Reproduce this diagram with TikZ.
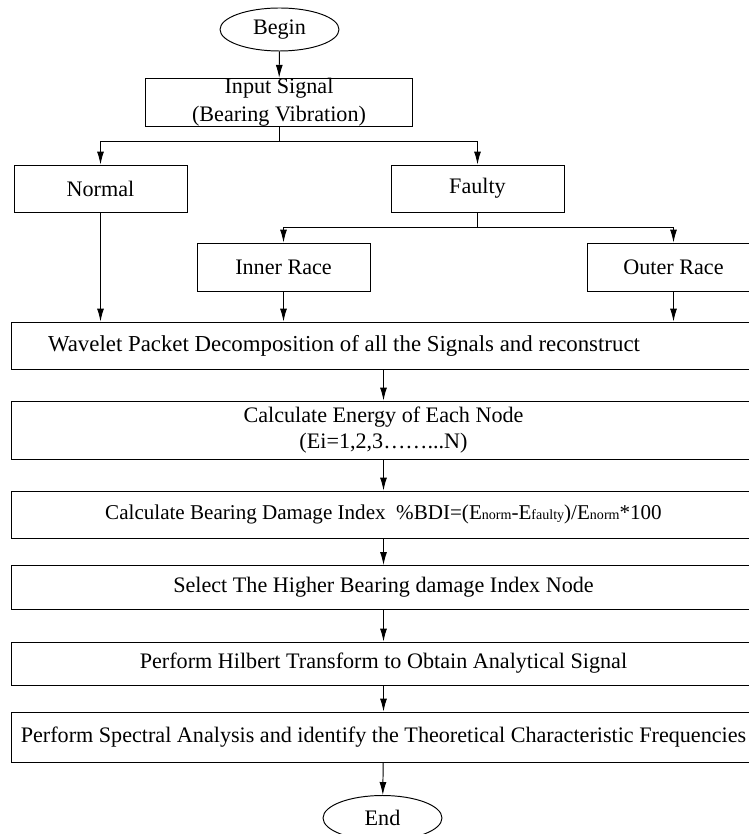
\documentclass[tikz,border=0pt]{standalone}
\usepackage{fontspec}
\setmainfont{Liberation Serif}
\usetikzlibrary{arrows.meta,shapes.geometric}

\begin{document}
\begin{tikzpicture}[x=0.02cm, y=-0.02cm, line width=0.55pt, >={Latex[length=2.6mm,width=1.4mm]},
		every node/.style={font=\fontsize{12.6}{15}\selectfont},
		box/.style={draw, rectangle, align=center, inner sep=0pt, minimum width=3.46cm, minimum height=0.94cm},
		wide/.style={box, minimum width=14.9cm},
		term/.style={draw, ellipse, inner sep=0pt, minimum width=2.38cm, minimum height=0.86cm}]
				\useasboundingbox (0,0) rectangle (749,834);
				\clip (0,0) rectangle (749,834);
				\node[term] (begin) at (279.5,29.5) {Begin};
				\node[box, minimum width=5.36cm] (input) at (279,102.5) {Input Signal\\[1pt](Bearing Vibration)};
				\node[box] (normal) at (100.5,188.5) {Normal};
				\node[box] (faulty) at (477.5,188.5) {Faulty};
				\node[box, minimum height=0.96cm] (inner) at (283.5,267) {Inner Race};
				\node[box, minimum height=0.96cm] (outer) at (673.5,267) {Outer Race};
				\node[wide, font=\fontsize{13}{15}\selectfont] (wave) at (383.5,345.5) {Wavelet Packet Decomposition of all the Signals and reconstruct\hspace*{1.58cm}};
				\node[wide, minimum height=1.16cm] (energy) at (383.5,430) {Calculate Energy of Each Node\\(Ei=1,2,3……...N)};
				\node[wide, font=\fontsize{12}{15}\selectfont] (bdi) at (383.5,514.5) {Calculate Bearing Damage Index\ \ \%BDI=(E{\fontsize{8}{10}\selectfont norm}-E{\fontsize{8}{10}\selectfont faulty})/E{\fontsize{8}{10}\selectfont norm}*100};
				\node[wide, minimum height=0.88cm] (select) at (383.5,587.5) {Select The Higher Bearing damage Index Node};
				\node[wide, minimum height=0.86cm] (hilbert) at (383.5,663.5) {Perform Hilbert Transform to Obtain Analytical Signal};
				\node[wide, minimum height=1cm] (spectral) at (383.5,737) {Perform Spectral Analysis and identify the Theoretical Characteristic Frequencies};
				\node[term, minimum height=0.9cm] (stop) at (382.5,818) {End};
				\coordinate (split1) at (279,141);
				\coordinate (split2) at (477.5,227);
				\draw[->] (begin) -- (input);
				\draw (input) -- (split1);
				\draw[->] (split1) -| (normal);
				\draw[->] (split1) -| (faulty);
				\draw (faulty) -- (split2);
				\draw[->] (split2) -| (inner);
				\draw[->] (split2) -| (outer);
				\draw[->] (normal) -- (normal |- wave.north);
				\draw[->] (inner) -- (inner |- wave.north);
				\draw[->] (outer) -- (outer |- wave.north);
				\draw[->] (wave) -- (energy);
				\draw[->] (energy) -- (bdi);
				\draw[->] (bdi) -- (select);
				\draw[->] (select) -- (hilbert);
				\draw[->] (hilbert) -- (spectral);
				\draw[->] (spectral) -- (stop);
			\end{tikzpicture}
\end{document}
